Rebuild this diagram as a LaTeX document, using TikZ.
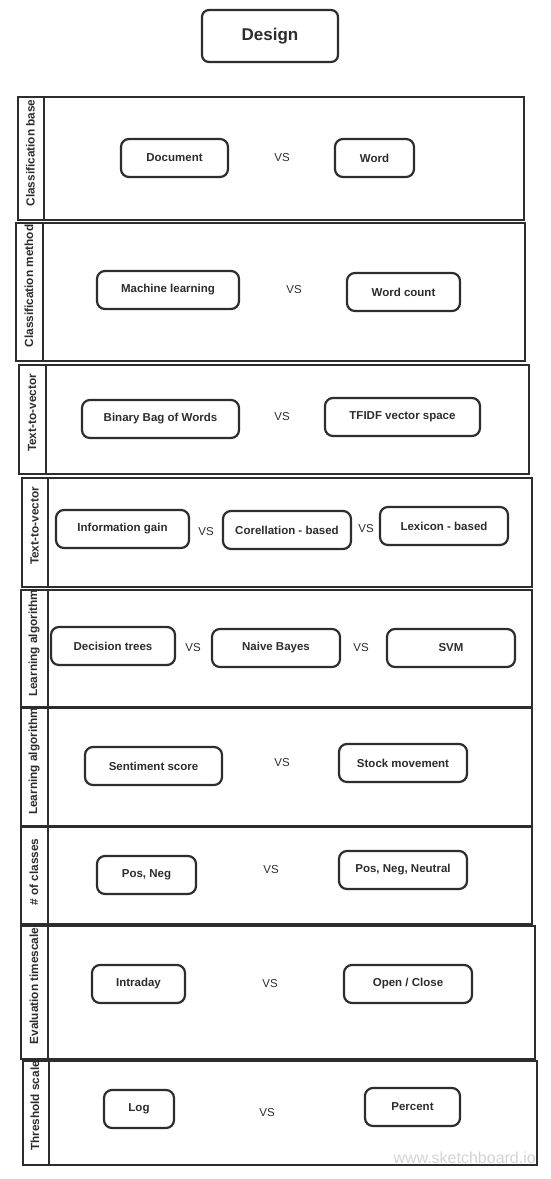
\documentclass[tikz,border=0pt]{standalone}
\usepackage{fontspec}
\setmainfont{Liberation Sans}
\usetikzlibrary{calc}
\definecolor{ink}{HTML}{2D2D2D}
\definecolor{mark}{HTML}{D4D4D4}
\tikzset{
  x=1pt, y=-1pt,
  lane/.style={draw=ink, line width=2.2pt, rectangle, inner sep=0pt, anchor=north west},
  strip/.style={draw=ink, line width=2.2pt},
  opt/.style={draw=ink, line width=2.2pt, rounded corners=8pt, minimum height=38pt, inner sep=0pt,
              font=\fontsize{11.5}{13}\selectfont\bfseries, text=ink},
  vs/.style={font=\fontsize{11.5}{13}\selectfont, text=ink},
  lbl/.style={rotate=90, font=\fontsize{11.8}{13}\selectfont\bfseries, text=ink, inner sep=0pt},
  title/.style={draw=ink, line width=2.2pt, rounded corners=7pt, minimum width=136pt, minimum height=52pt,
              font=\fontsize{17}{19}\selectfont\bfseries, text=ink}
}
\begin{document}
\begin{tikzpicture}
\useasboundingbox (0,0) rectangle (551,1179);
\fill[white] (0,0) rectangle (551,1179);

\node[title] (design) at (270,36) {Design};

% lanes
\node[lane, minimum width=506pt, minimum height=123pt] (L1) at (17,96) {};
\node[lane, minimum width=509pt, minimum height=138pt] (L2) at (15,222) {};
\node[lane, minimum width=510pt, minimum height=109pt] (L3) at (18,364) {};
\node[lane, minimum width=510pt, minimum height=109pt] (L4) at (21,477) {};
\node[lane, minimum width=511pt, minimum height=117pt] (L5) at (20,589) {};
\node[lane, minimum width=511pt, minimum height=118pt] (L6) at (20,707) {};
\node[lane, minimum width=511pt, minimum height=97pt] (L7) at (20,826) {};
\node[lane, minimum width=514pt, minimum height=133pt] (L8) at (20,925) {};
\node[lane, minimum width=514pt, minimum height=104pt] (L9) at (22,1060) {};

\draw[strip] ($(L1.north west)+(27,0)$) -- ($(L1.south west)+(27,0)$);
\draw[strip] ($(L2.north west)+(28,0)$) -- ($(L2.south west)+(28,0)$);
\draw[strip] ($(L3.north west)+(28,0)$) -- ($(L3.south west)+(28,0)$);
\draw[strip] ($(L4.north west)+(27,0)$) -- ($(L4.south west)+(27,0)$);
\draw[strip] ($(L5.north west)+(28,0)$) -- ($(L5.south west)+(28,0)$);
\draw[strip] ($(L6.north west)+(28,0)$) -- ($(L6.south west)+(28,0)$);
\draw[strip] ($(L7.north west)+(28,0)$) -- ($(L7.south west)+(28,0)$);
\draw[strip] ($(L8.north west)+(28,0)$) -- ($(L8.south west)+(28,0)$);
\draw[strip] ($(L9.north west)+(27,0)$) -- ($(L9.south west)+(27,0)$);

% lane labels
\node[lbl] (t1) at (30.5,153) {Classification base};
\node[lbl] (t2) at (29,286) {Classification method};
\node[lbl] (t3) at (32,413) {Text-to-vector};
\node[lbl] (t4) at (34.5,526) {Text-to-vector};
\begin{scope}
\clip (20,591) rectangle (48,706);
\node[lbl, anchor=west] (t5) at (34,697) {Learning algorithm};
\end{scope}
\begin{scope}
\clip (20,709) rectangle (48,825);
\node[lbl, anchor=west] (t6) at (34,815) {Learning algorithm};
\end{scope}
\node[lbl] (t7) at (34,872) {\# of classes};
\node[lbl] (t8) at (34,986) {Evaluation timescale};
\node[lbl] (t9) at (35,1106) {Threshold scale};

% row 1
\node[opt, minimum width=107pt] (doc) at (174.5,158) {Document};
\node[vs] (vs1) at (282,158) {VS};
\node[opt, minimum width=79pt] (word) at (374.5,158) {Word};
% row 2
\node[opt, minimum width=142pt] (ml) at (168,290) {Machine learning};
\node[vs] (vs2) at (294,290) {VS};
\node[opt, minimum width=113pt] (wc) at (403.5,292) {Word count};
% row 3
\node[opt, minimum width=157pt] (bbow) at (160.5,419) {Binary Bag of Words};
\node[vs] (vs3) at (282,417) {VS};
\node[opt, minimum width=155pt] (tfidf) at (402.5,417) {TFIDF vector space};
% row 4
\node[opt, minimum width=133pt] (ig) at (122.5,529) {Information gain};
\node[vs] (vs4a) at (206,532) {VS};
\node[opt, minimum width=128pt] (cb) at (287,530) {Corellation - based};
\node[vs] (vs4b) at (366,529) {VS};
\node[opt, minimum width=128pt] (lb) at (444,526) {Lexicon - based};
% row 5
\node[opt, minimum width=124pt] (dt) at (113,646) {Decision trees};
\node[vs] (vs5a) at (193,648) {VS};
\node[opt, minimum width=128pt] (nb) at (276,648) {Naive Bayes};
\node[vs] (vs5b) at (361,648) {VS};
\node[opt, minimum width=128pt] (svm) at (451,648) {SVM};
% row 6
\node[opt, minimum width=137pt] (ss) at (153.5,766) {Sentiment score};
\node[vs] (vs6) at (282,763) {VS};
\node[opt, minimum width=128pt] (sm) at (403,763) {Stock movement};
% row 7
\node[opt, minimum width=99pt] (pn) at (146.5,875) {Pos, Neg};
\node[vs] (vs7) at (271,870) {VS};
\node[opt, minimum width=128pt] (pnn) at (403,870) {Pos, Neg, Neutral};
% row 8
\node[opt, minimum width=93pt] (intra) at (138.5,984) {Intraday};
\node[vs] (vs8) at (270,984) {VS};
\node[opt, minimum width=128pt] (oc) at (408,984) {Open / Close};
% row 9
\node[opt, minimum width=70pt] (log) at (139,1109) {Log};
\node[vs] (vs9) at (267,1113) {VS};
\node[opt, minimum width=95pt] (pct) at (412.5,1107) {Percent};

% watermark
\node[text=mark, font=\fontsize{16}{18}\selectfont, anchor=east, inner sep=0pt] (wm) at (536,1158) {www.sketchboard.io};
\end{tikzpicture}
\end{document}
